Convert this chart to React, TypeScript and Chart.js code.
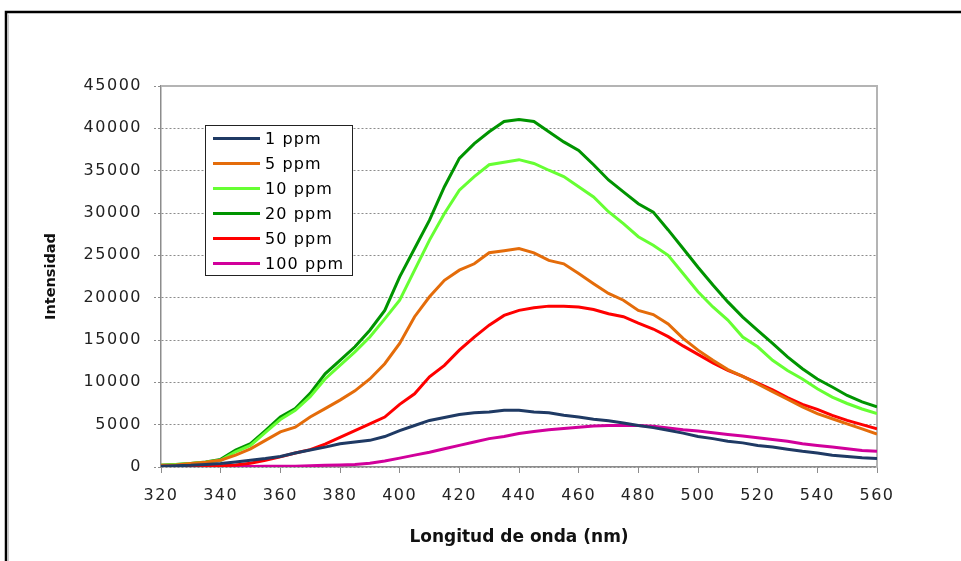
import React, { useEffect, useRef } from "react";
import { Chart, registerables } from "chart.js";

Chart.register(...registerables);

// Emission wavelength (nm)
const wavelengths = [
  320, 325, 330, 335, 340, 345, 350, 355, 360, 365, 370, 375, 380, 385, 390, 395,
  400, 405, 410, 415, 420, 425, 430, 435, 440, 445, 450, 455, 460, 465, 470, 475,
  480, 485, 490, 495, 500, 505, 510, 515, 520, 525, 530, 535, 540, 545, 550, 555, 560,
];

// Fluorescence intensity per concentration
const ppm1 = [
  100, 150, 200, 300, 400, 600, 800, 1000, 1250, 1650, 2000, 2350, 2750, 2950, 3150, 3600,
  4300, 4900, 5500, 5850, 6200, 6400, 6500, 6700, 6700, 6500, 6400, 6100, 5900, 5650, 5450, 5200,
  4900, 4650, 4350, 4000, 3600, 3350, 3050, 2850, 2550, 2350, 2100, 1850, 1650, 1400, 1250, 1100, 1000,
];
const ppm5 = [
  200, 250, 400, 550, 800, 1400, 2150, 3150, 4150, 4700, 5900, 6900, 7900, 9000, 10400, 12200,
  14600, 17750, 20100, 22050, 23250, 24000, 25300, 25550, 25800, 25300, 24400, 24000, 22850, 21650, 20500, 19700,
  18500, 18000, 16900, 15200, 13800, 12600, 11500, 10700, 9800, 8900, 8000, 7100, 6300, 5700, 5100, 4500, 3900,
];
const ppm10 = [
  200, 300, 400, 550, 800, 1800, 2550, 4100, 5600, 6700, 8300, 10400, 12000, 13600, 15350, 17500,
  19700, 23250, 26800, 29950, 32700, 34300, 35700, 36000, 36300, 35850, 35050, 34300, 33100, 31900, 30150, 28750,
  27200, 26200, 25000, 22850, 20700, 18900, 17350, 15350, 14200, 12600, 11400, 10400, 9250, 8250, 7500, 6850, 6300,
];
const ppm20 = [
  200, 300, 400, 600, 900, 2000, 2750, 4300, 5900, 6900, 8700, 11000, 12600, 14200, 16150, 18500,
  22460, 25800, 29150, 33100, 36450, 38200, 39600, 40800, 41050, 40800, 39600, 38400, 37400, 35700, 33900, 32500,
  31100, 30100, 28000, 25800, 23600, 21500, 19500, 17700, 16150, 14600, 13000, 11600, 10400, 9450, 8450, 7700, 7100,
];
const ppm50 = [
  100, 100, 100, 100, 150, 250, 450, 800, 1200, 1650, 2050, 2700, 3500, 4300, 5100, 5900,
  7400, 8650, 10650, 12000, 13800, 15350, 16750, 17900, 18500, 18800, 19000, 19000, 18900, 18600, 18100, 17750,
  17000, 16300, 15400, 14300, 13300, 12300, 11400, 10700, 9900, 9100, 8200, 7400, 6800, 6100, 5500, 5000, 4500,
];
const ppm100 = [
  50, 50, 50, 50, 50, 50, 60, 80, 100, 100, 150, 200, 250, 300, 450, 700,
  1050, 1400, 1750, 2150, 2550, 2950, 3350, 3600, 3950, 4200, 4400, 4550, 4700, 4850, 4900, 4900,
  4900, 4800, 4600, 4400, 4250, 4050, 3850, 3650, 3450, 3250, 3050, 2750, 2550, 2350, 2150, 1950, 1850,
];

const seriesLabels = ["1 ppm", "5 ppm", "10 ppm", "20 ppm", "50 ppm", "100 ppm"];
const seriesValues = [ppm1, ppm5, ppm10, ppm20, ppm50, ppm100];
const seriesColors = ["#1F3A64", "#E46C0A", "#66FF33", "#009400", "#FF0000", "#D1009B"];

const xTitle = "Longitud de onda (nm)";
const yTitle = "Intensidad";
const xRange = { min: 320, max: 560, step: 20 };
const yRange = { min: 0, max: 45000, step: 5000 };

const W = 961;
const H = 561;

// Outer frame, plot-area border, tick-label spacing and the boxed legend
const decorations = {
  id: "decorations",
  beforeDraw(chart: any) {
    // axis titles are drawn with normal spacing
    chart.ctx.letterSpacing = "0px";
  },
  beforeDatasetsDraw(chart: any) {
    const { ctx, chartArea: a } = chart;
    ctx.save();
    ctx.strokeStyle = "#b4b4b4";
    ctx.lineWidth = 2;
    ctx.beginPath();
    ctx.moveTo(a.left, a.top);
    ctx.lineTo(a.right, a.top);
    ctx.lineTo(a.right, a.bottom);
    ctx.stroke();
    ctx.restore();
  },
  afterDatasetsDraw(chart: any) {
    // tick labels (z: 1) are drawn after this, slightly widened
    chart.ctx.letterSpacing = "1.5px";
  },
  afterDraw(chart: any) {
    const { ctx } = chart;
    ctx.save();
    // chart frame
    ctx.strokeStyle = "#000";
    ctx.lineWidth = 2.5;
    ctx.beginPath();
    ctx.moveTo(6, H);
    ctx.lineTo(6, 12);
    ctx.lineTo(W, 12);
    ctx.stroke();
    ctx.strokeStyle = "#c8c8c8";
    ctx.lineWidth = 1;
    ctx.beginPath();
    ctx.moveTo(8.5, H);
    ctx.lineTo(8.5, 14.5);
    ctx.stroke();

    // legend
    const box = { x: 205.5, y: 125.5, w: 147, h: 150 };
    ctx.fillStyle = "#fff";
    ctx.fillRect(box.x, box.y, box.w, box.h);
    ctx.strokeStyle = "#222";
    ctx.lineWidth = 1;
    ctx.strokeRect(box.x, box.y, box.w, box.h);
    ctx.font = "16px 'DejaVu Sans'";
    ctx.textBaseline = "middle";
    ctx.textAlign = "left";
    ctx.letterSpacing = "1.1px";
    chart.data.datasets.forEach((ds: any, i: number) => {
      const y = 138.5 + i * 25;
      ctx.strokeStyle = ds.borderColor;
      ctx.lineWidth = 3;
      ctx.beginPath();
      ctx.moveTo(213, y);
      ctx.lineTo(260, y);
      ctx.stroke();
      ctx.fillStyle = "#000";
      ctx.fillText(ds.label, 265, y + 1);
    });
    ctx.restore();
    ctx.letterSpacing = "0px";
  },
};

export default function App() {
  const canvasRef = useRef<HTMLCanvasElement | null>(null);

  useEffect(() => {
    const canvas = canvasRef.current;
    if (!canvas) return;
    const chart = new Chart(canvas, {
      type: "line",
      data: {
        datasets: seriesLabels.map((label, i) => ({
          label,
          data: wavelengths.map((x, j) => ({ x, y: seriesValues[i][j] })),
          borderColor: seriesColors[i],
          backgroundColor: seriesColors[i],
          borderWidth: 3,
          pointRadius: 0,
          tension: 0,
          fill: false,
        })),
      },
      options: {
        responsive: false,
        animation: false,
        devicePixelRatio: 1,
        layout: { padding: { left: 0, top: 86, right: 84, bottom: 0 } },
        plugins: {
          legend: { display: false },
          tooltip: { enabled: false },
        },
        scales: {
          x: {
            type: "linear",
            min: xRange.min,
            max: xRange.max,
            afterFit: (s: any) => {
              s.height = H - 467;
            },
            ticks: {
              z: 1,
              stepSize: xRange.step,
              padding: 13,
              color: "#222",
              font: { family: "DejaVu Sans", size: 16 },
              maxRotation: 0,
              callback: (v: any) => String(v),
            },
            grid: {
              drawOnChartArea: false,
              drawTicks: true,
              tickLength: 6,
              color: "#8c8c8c",
              lineWidth: 1,
            },
            border: { display: true, color: "#8c8c8c", width: 1.5 },
            title: {
              display: true,
              text: xTitle,
              color: "#111",
              font: { family: "DejaVu Sans", size: 17, weight: "bold" },
              padding: { top: 0, bottom: 12.8 },
            },
          },
          y: {
            type: "linear",
            min: yRange.min,
            max: yRange.max,
            afterFit: (s: any) => {
              s.width = 161;
            },
            ticks: {
              z: 1,
              stepSize: yRange.step,
              padding: 12,
              color: "#222",
              font: { family: "DejaVu Sans", size: 16 },
              callback: (v: any) => String(v),
            },
            grid: {
              drawOnChartArea: true,
              drawTicks: true,
              tickLength: 7,
              color: "#8c8c8c",
              lineWidth: 1,
              tickBorderDash: [2, 2],
            },
            border: { display: true, color: "#8c8c8c", width: 1.5, dash: [2, 2] },
            title: {
              display: true,
              text: yTitle,
              color: "#111",
              font: { family: "DejaVu Sans", size: 14.5, weight: "bold" },
              padding: { top: 42.3, bottom: 0 },
            },
          },
        },
      } as any,
      plugins: [decorations],
    });
    return () => chart.destroy();
  }, []);

  return (
    <div style={{ position: "fixed", left: 0, top: 0, width: W, height: H, background: "#fff" }}>
      <canvas ref={canvasRef} width={W} height={H} style={{ display: "block" }} />
    </div>
  );
}
